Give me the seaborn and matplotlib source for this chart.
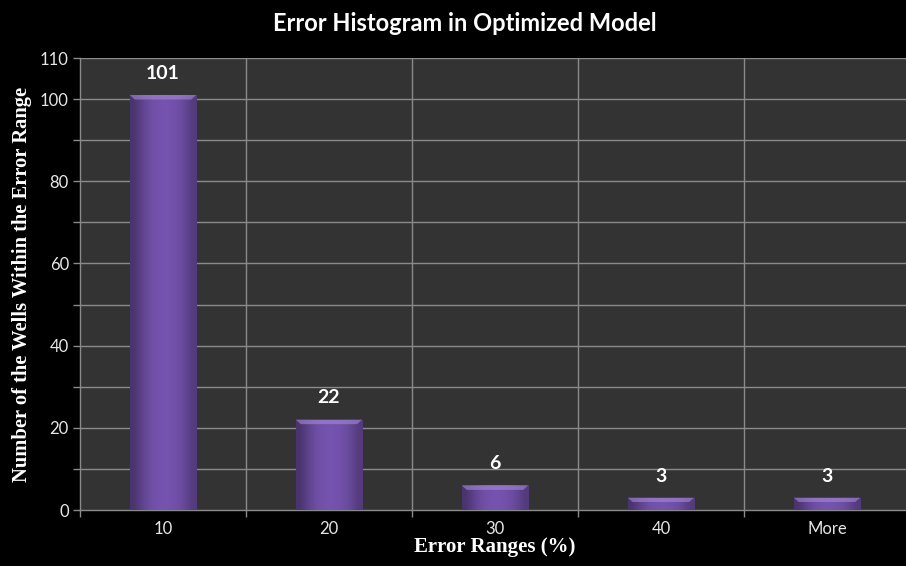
import numpy as np
import pandas as pd
import matplotlib
matplotlib.use("Agg")
import matplotlib.pyplot as plt
import seaborn as sns

categories = ["10", "20", "30", "40", "More"]
counts = [101, 22, 6, 3, 3]
y_major = [0, 20, 40, 60, 80, 100, 110]

df = pd.DataFrame({"range": categories, "wells": counts})

sns.set_theme(style="dark")
plt.rcParams["font.family"] = ["Lato", "DejaVu Sans"]

fig = plt.figure(figsize=(9.06, 5.66), dpi=100, facecolor="black")
ax = fig.add_axes([0.0883, 0.0989, 0.916, 0.7986])
ax.set_facecolor("#333333")

sns.barplot(data=df, x="range", y="wells", color="#6a4a9e", width=0.4,
            saturation=1, ax=ax, zorder=3, linewidth=0)

ax.set_xlim(-0.5, len(categories) - 0.5)
ax.set_ylim(0, 110)

# horizontal shading on each bar, with a bright bevel along the top
shade = np.array([[0.62, 0.82, 0.95, 1.0, 1.0, 0.97, 0.88, 0.7]])
base = np.array(matplotlib.colors.to_rgb("#6f4fa6"))
grad = np.clip(shade[..., None] * base[None, None, :] * 1.05, 0, 1)
for p in ax.patches:
    x0, y0 = p.get_x(), p.get_y()
    w, h = p.get_width(), p.get_height()
    im = ax.imshow(grad, extent=(x0, x0 + w, y0, y0 + h), aspect="auto",
                   interpolation="bicubic", zorder=3.5)
    im.set_clip_path(p)
    bevel = min(1.1, h * 0.35)
    ax.fill([x0, x0 + w, x0 + w - 0.03, x0 + 0.03],
            [y0 + h, y0 + h, y0 + h - bevel, y0 + h - bevel],
            color="#a58ad8", alpha=0.6, zorder=3.6, linewidth=0)

for i, v in enumerate(counts):
    ax.text(i, v + 3.2, str(v), ha="center", va="bottom", color="white",
            fontsize=14, fontweight="bold", zorder=5)

# gridlines every 10, category separators
ax.set_yticks(np.arange(0, 111, 10), minor=True)
ax.set_yticks(y_major)
ax.grid(False)
for yv in range(10, 111, 10):
    ax.axhline(yv, color="#8a8a8a", linewidth=1.0, zorder=1)
for xv in np.arange(0.5, len(categories) - 0.5, 1):
    ax.axvline(xv, color="#8a8a8a", linewidth=1.0, zorder=1)

for s in ["top", "right"]:
    ax.spines[s].set_visible(False)
for s in ["left", "bottom"]:
    ax.spines[s].set_visible(True)
    ax.spines[s].set_color("#8a8a8a")
    ax.spines[s].set_linewidth(1.0)

ax.tick_params(axis="y", which="both", direction="out", length=5, width=1,
               color="#8a8a8a", labelcolor="#e6e6e6", labelsize=12, left=True, pad=3)
ax.tick_params(axis="x", which="both", length=0, labelcolor="#e6e6e6",
               labelsize=12, pad=8)
ax.set_xticks(np.arange(-0.5, len(categories), 1), minor=True)
ax.tick_params(axis="x", which="minor", bottom=True, direction="out", length=5,
               width=1, color="#8a8a8a")

ax.set_xlabel("Error Ranges (%)", color="white", fontsize=15, fontweight="bold",
              family=["Liberation Serif", "DejaVu Serif"], labelpad=0)
ax.set_ylabel("Number of the Wells Within the Error Range", color="white",
              fontsize=14.8, fontweight="bold",
              family=["Liberation Serif", "DejaVu Serif"], labelpad=6)

fig.text(0.513, 0.958, "Error Histogram in Optimized Model", ha="center",
         va="center", color="white", fontsize=17, fontweight="bold")

fig.savefig("out.png", dpi=100, facecolor="black")
